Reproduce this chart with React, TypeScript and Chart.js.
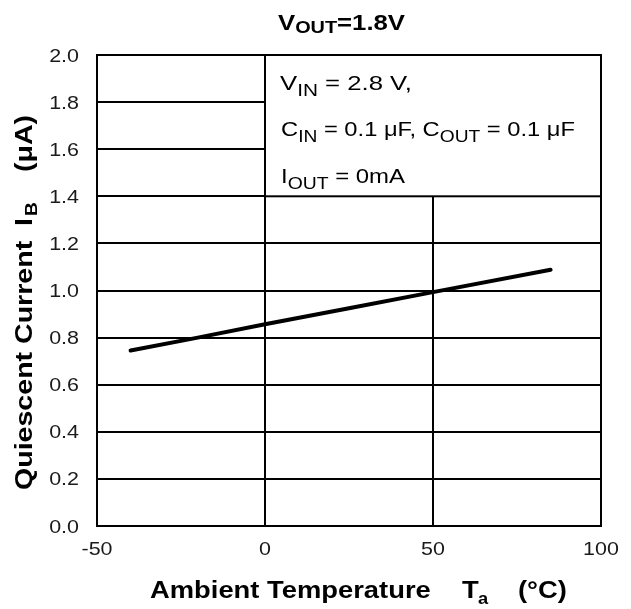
import React, { useEffect, useRef } from "react";
import { Chart, registerables } from "chart.js";

Chart.register(...registerables);

const temperatures = [-40, -20, 0, 25, 50, 85];
const currentUA = [0.745, 0.8, 0.857, 0.925, 0.993, 1.088];
const xTicks = [-50, 0, 50, 100];
const yTicks = [0, 0.2, 0.4, 0.6, 0.8, 1.0, 1.2, 1.4, 1.6, 1.8, 2.0];

type Run = { t: string; sub?: boolean };

const FONT = '"Liberation Sans", Arial, sans-serif';

function runsWidth(ctx: CanvasRenderingContext2D, runs: Run[], size: number, subSize: number, bold: boolean) {
  let w = 0;
  for (const r of runs) {
    ctx.font = `${bold ? "bold " : ""}${r.sub ? subSize : size}px ${FONT}`;
    w += ctx.measureText(r.t).width;
  }
  return w;
}

function drawRuns(
  ctx: CanvasRenderingContext2D,
  runs: Run[],
  x: number,
  y: number,
  size: number,
  subSize: number,
  bold: boolean,
  subDrop: number,
  sx: number
) {
  ctx.save();
  ctx.translate(x, y);
  ctx.scale(sx, 1);
  let cx = 0;
  for (const r of runs) {
    const s = r.sub ? subSize : size;
    ctx.font = `${bold ? "bold " : ""}${s}px ${FONT}`;
    ctx.fillText(r.t, cx, r.sub ? subDrop : 0);
    cx += ctx.measureText(r.t).width;
  }
  ctx.restore();
}

function fitRuns(
  ctx: CanvasRenderingContext2D,
  runs: Run[],
  x0: number,
  x1: number,
  y: number,
  size: number,
  subSize: number,
  bold: boolean,
  subDrop: number
) {
  const w = runsWidth(ctx, runs, size, subSize, bold);
  drawRuns(ctx, runs, x0, y, size, subSize, bold, subDrop, (x1 - x0) / w);
}

const TICK_SX = 1.16;
const TICK_SIZE = 18.5;

const annotationPlugin = {
  id: "annotationBox",
  beforeDatasetsDraw(chart: any) {
    const ctx: CanvasRenderingContext2D = chart.ctx;
    const xs = chart.scales.x;
    const ys = chart.scales.y;
    const l = xs.getPixelForValue(0);
    const r = xs.getPixelForValue(100);
    const t = ys.getPixelForValue(2.0);
    const b = ys.getPixelForValue(1.4);
    ctx.save();
    ctx.fillStyle = "#fff";
    ctx.fillRect(l, t, r - l, b - t);
    ctx.strokeStyle = "#000";
    ctx.lineWidth = 2;
    ctx.strokeRect(l, t, r - l, b - t);
    ctx.fillStyle = "#000";
    ctx.textBaseline = "alphabetic";
    ctx.textAlign = "left";
    fitRuns(ctx, [{ t: "V" }, { t: "IN", sub: true }, { t: " = 2.8 V," }], l + 15, l + 147, t + 35, 21, 17, false, 6);
    fitRuns(
      ctx,
      [{ t: "C" }, { t: "IN", sub: true }, { t: " = 0.1 μF, C" }, { t: "OUT", sub: true }, { t: " = 0.1 μF" }],
      l + 16,
      l + 310,
      t + 81,
      21,
      17,
      false,
      6
    );
    fitRuns(ctx, [{ t: "I" }, { t: "OUT", sub: true }, { t: " = 0mA" }], l + 16, l + 140, t + 128, 21, 17, false, 6);
    ctx.restore();
  },
  afterDraw(chart: any) {
    const ctx: CanvasRenderingContext2D = chart.ctx;
    const xs = chart.scales.x;
    const ys = chart.scales.y;
    ctx.save();
    ctx.fillStyle = "#1a1a1a";
    ctx.textBaseline = "alphabetic";
    ctx.font = `${TICK_SIZE}px ${FONT}`;
    for (const v of yTicks) {
      const s = v.toFixed(1);
      ctx.font = `${TICK_SIZE}px ${FONT}`;
      const w = ctx.measureText(s).width * TICK_SX;
      drawRuns(ctx, [{ t: s }], 79 - w, ys.getPixelForValue(v) + 6.5, TICK_SIZE, TICK_SIZE, false, 0, TICK_SX);
    }
    for (const v of xTicks) {
      const s = String(v);
      ctx.font = `${TICK_SIZE}px ${FONT}`;
      const w = ctx.measureText(s).width * TICK_SX;
      drawRuns(ctx, [{ t: s }], xs.getPixelForValue(v) - w / 2, 555, TICK_SIZE, TICK_SIZE, false, 0, TICK_SX);
    }
    ctx.fillStyle = "#000";
    // Title
    fitRuns(ctx, [{ t: "V" }, { t: "OUT", sub: true }, { t: "=1.8V" }], 278, 405, 30, 22, 17, true, 3);
    // X title
    const XSX = 1.14;
    drawRuns(ctx, [{ t: "Ambient Temperature" }], 150, 598, 24, 24, true, 0, XSX);
    drawRuns(ctx, [{ t: "T" }], 462, 598, 24, 24, true, 0, XSX);
    drawRuns(ctx, [{ t: "a" }], 478, 604, 16, 16, true, 0, XSX);
    drawRuns(ctx, [{ t: "(°C)" }], 518, 598, 24, 24, true, 0, XSX);
    // Y title (rotated)
    const YSX = 1.19;
    ctx.translate(32, 0);
    ctx.rotate(-Math.PI / 2);
    drawRuns(ctx, [{ t: "Quiescent Current" }], -490, 0, 24, 24, true, 0, YSX);
    drawRuns(ctx, [{ t: "I" }], -226, 0, 24, 24, true, 0, YSX);
    drawRuns(ctx, [{ t: "B" }], -216, 5, 16, 16, true, 0, YSX);
    drawRuns(ctx, [{ t: "(μA)" }], -172, 0, 24, 24, true, 0, YSX);
    ctx.restore();
  },
};

export default function App() {
  const ref = useRef<HTMLCanvasElement | null>(null);
  useEffect(() => {
    document.body.style.margin = "0";
    const canvas = ref.current!;
    const chart = new Chart(canvas, {
      type: "scatter",
      data: {
        datasets: [
          {
            data: temperatures.map((t, i) => ({ x: t, y: currentUA[i] })),
            showLine: true,
            borderColor: "#000",
            borderWidth: 4,
            pointRadius: 0,
            borderCapStyle: "round",
            tension: 0,
          } as any,
        ],
      },
      options: {
        responsive: false,
        animation: false,
        devicePixelRatio: 1,
        layout: { padding: { top: 55, right: 30, left: 0, bottom: 0 } },
        plugins: { legend: { display: false }, tooltip: { enabled: false }, title: { display: false } },
        scales: {
          x: {
            type: "linear",
            min: -50,
            max: 100,
            afterBuildTicks: (s: any) => {
              s.ticks = xTicks.map((v) => ({ value: v }));
            },
            afterFit: (s: any) => {
              s.height = 83;
            },
            grid: { color: "#000", lineWidth: 2, drawTicks: false },
            border: { color: "#000", width: 2 },
            ticks: { display: false },
          },
          y: {
            type: "linear",
            min: 0,
            max: 2.0,
            afterBuildTicks: (s: any) => {
              s.ticks = yTicks.map((v) => ({ value: v }));
            },
            afterFit: (s: any) => {
              s.width = 97;
            },
            grid: { color: "#000", lineWidth: 2, drawTicks: false },
            border: { color: "#000", width: 2 },
            ticks: { display: false },
          },
        },
      },
      plugins: [annotationPlugin],
    });
    return () => chart.destroy();
  }, []);
  return (
    <div style={{ width: 631, height: 609, background: "#fff" }}>
      <canvas ref={ref} width={631} height={609} style={{ display: "block" }} />
    </div>
  );
}
